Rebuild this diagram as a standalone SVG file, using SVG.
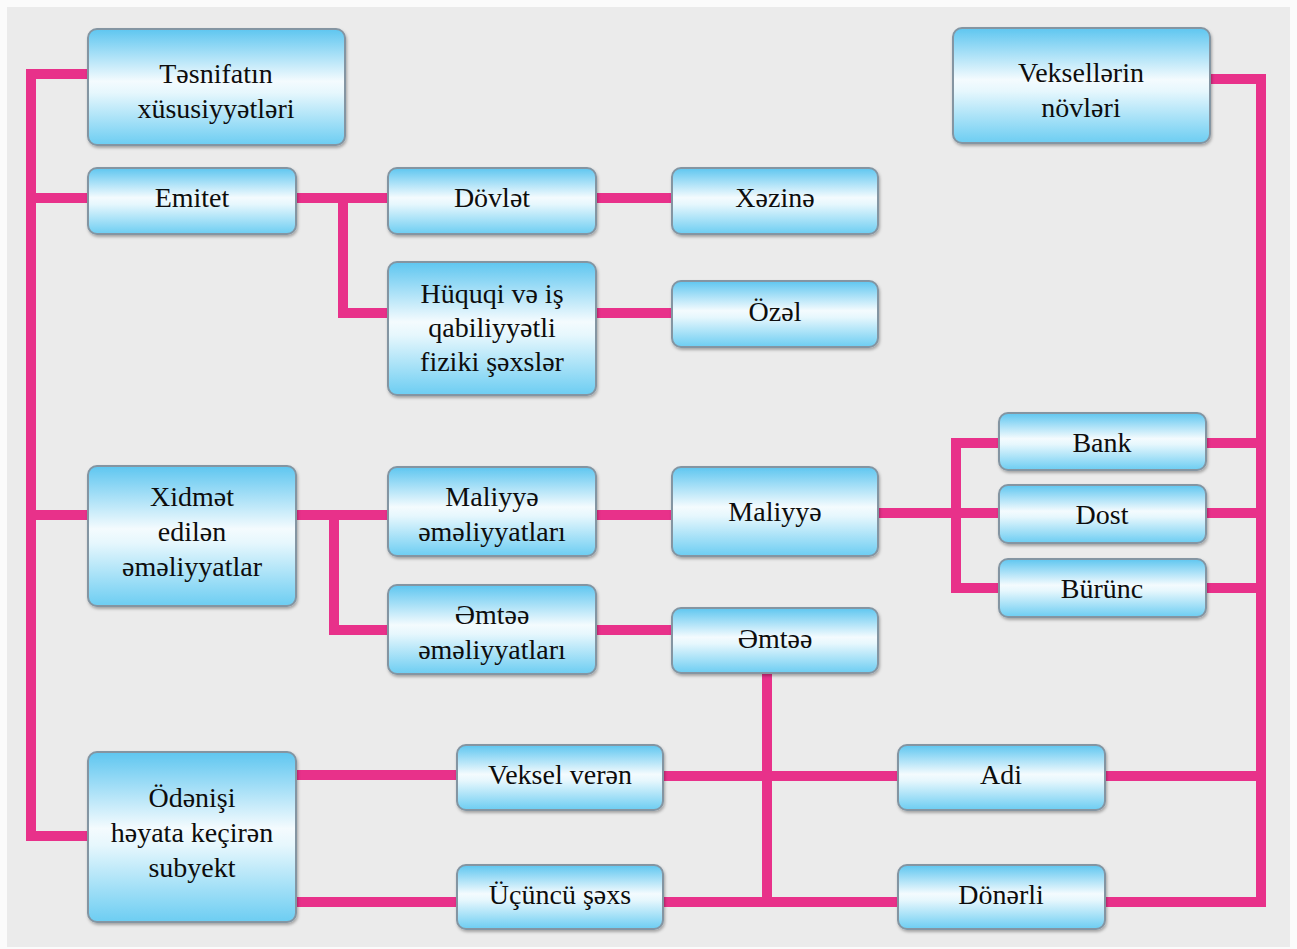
<svg xmlns="http://www.w3.org/2000/svg" width="1297" height="949" viewBox="0 0 1297 949">
<defs>
<linearGradient id="g" x1="0" y1="0" x2="0" y2="1">
<stop offset="0" stop-color="#5ec6f0"/>
<stop offset="0.45" stop-color="#f4fbfe"/>
<stop offset="0.55" stop-color="#e6f7fd"/>
<stop offset="1" stop-color="#6ccdf2"/>
</linearGradient>
<filter id="sh" x="-10%" y="-10%" width="120%" height="130%">
<feDropShadow dx="1" dy="2" stdDeviation="1.5" flood-color="#000" flood-opacity="0.3"/>
</filter>
</defs>
<style>
.box{fill:url(#g);stroke:#8495a2;stroke-width:2;filter:url(#sh)}
.t{font-family:'Liberation Serif','Times New Roman',serif;font-size:28px;fill:#0d0d0d;text-anchor:middle}
.c{fill:none;stroke:#e8318a;stroke-width:10;stroke-linejoin:miter}
</style>
<rect x="0" y="0" width="1297" height="949" fill="#fbfbfb"/>
<rect x="7" y="7" width="1283" height="940" fill="#ebebeb"/>
<g id="connectors">
<path class="c" d="M88 74 H31 V836 H88"/>
<path class="c" d="M31 198 H88"/>
<path class="c" d="M31 515 H88"/>
<path class="c" d="M296 198 H388"/>
<path class="c" d="M343 198 V313 H388"/>
<path class="c" d="M596 198 H672"/>
<path class="c" d="M596 313 H672"/>
<path class="c" d="M296 515 H388"/>
<path class="c" d="M334 515 V630 H388"/>
<path class="c" d="M596 515 H672"/>
<path class="c" d="M596 630 H672"/>
<path class="c" d="M878 513 H999"/>
<path class="c" d="M999 443 H956 V588 H999"/>
<path class="c" d="M1210 79 H1261 V902 H1105"/>
<path class="c" d="M1206 443 H1261"/>
<path class="c" d="M1206 513 H1261"/>
<path class="c" d="M1206 588 H1261"/>
<path class="c" d="M1105 776 H1261"/>
<path class="c" d="M296 775 H457"/>
<path class="c" d="M296 902 H457"/>
<path class="c" d="M663 776 H898"/>
<path class="c" d="M663 902 H898"/>
<path class="c" d="M767 673 V902"/>
</g>
<g id="n1"><rect class="box" x="88" y="29" width="257" height="116" rx="9"/><text class="t" x="216" y="83">Təsnifatın</text><text class="t" x="216" y="118">xüsusiyyətləri</text></g>
<g id="n2"><rect class="box" x="953" y="28" width="257" height="115" rx="9"/><text class="t" x="1081" y="82">Veksellərin</text><text class="t" x="1081" y="117">növləri</text></g>
<g id="n3"><rect class="box" x="88" y="168" width="208" height="66" rx="9"/><text class="t" x="192" y="207">Emitet</text></g>
<g id="n4"><rect class="box" x="388" y="168" width="208" height="66" rx="9"/><text class="t" x="492" y="207">Dövlət</text></g>
<g id="n5"><rect class="box" x="672" y="168" width="206" height="66" rx="9"/><text class="t" x="775" y="207">Xəzinə</text></g>
<g id="n6"><rect class="box" x="388" y="262" width="208" height="133" rx="9"/><text class="t" x="492" y="303">Hüquqi və iş</text><text class="t" x="492" y="337">qabiliyyətli</text><text class="t" x="492" y="371">fiziki şəxslər</text></g>
<g id="n7"><rect class="box" x="672" y="281" width="206" height="66" rx="9"/><text class="t" x="775" y="321">Özəl</text></g>
<g id="n8"><rect class="box" x="88" y="466" width="208" height="140" rx="9"/><text class="t" x="192" y="506">Xidmət</text><text class="t" x="192" y="541">edilən</text><text class="t" x="192" y="576">əməliyyatlar</text></g>
<g id="n9"><rect class="box" x="388" y="467" width="208" height="89" rx="9"/><text class="t" x="492" y="506">Maliyyə</text><text class="t" x="492" y="541">əməliyyatları</text></g>
<g id="n10"><rect class="box" x="672" y="467" width="206" height="89" rx="9"/><text class="t" x="775" y="521">Maliyyə</text></g>
<g id="n11"><rect class="box" x="999" y="413" width="207" height="57" rx="9"/><text class="t" x="1102" y="452">Bank</text></g>
<g id="n12"><rect class="box" x="999" y="485" width="207" height="58" rx="9"/><text class="t" x="1102" y="524">Dost</text></g>
<g id="n13"><rect class="box" x="999" y="559" width="207" height="58" rx="9"/><text class="t" x="1102" y="598">Bürünc</text></g>
<g id="n14"><rect class="box" x="388" y="585" width="208" height="89" rx="9"/><text class="t" x="492" y="624">Əmtəə</text><text class="t" x="492" y="659">əməliyyatları</text></g>
<g id="n15"><rect class="box" x="672" y="608" width="206" height="65" rx="9"/><text class="t" x="775" y="648">Əmtəə</text></g>
<g id="n16"><rect class="box" x="88" y="752" width="208" height="170" rx="9"/><text class="t" x="192" y="807">Ödənişi</text><text class="t" x="192" y="842">həyata keçirən</text><text class="t" x="192" y="877">subyekt</text></g>
<g id="n17"><rect class="box" x="457" y="745" width="206" height="65" rx="9"/><text class="t" x="560" y="784">Veksel verən</text></g>
<g id="n18"><rect class="box" x="457" y="865" width="206" height="64" rx="9"/><text class="t" x="560" y="904">Üçüncü şəxs</text></g>
<g id="n19"><rect class="box" x="898" y="745" width="207" height="65" rx="9"/><text class="t" x="1001" y="784">Adi</text></g>
<g id="n20"><rect class="box" x="898" y="865" width="207" height="64" rx="9"/><text class="t" x="1001" y="904">Dönərli</text></g>
</svg>
